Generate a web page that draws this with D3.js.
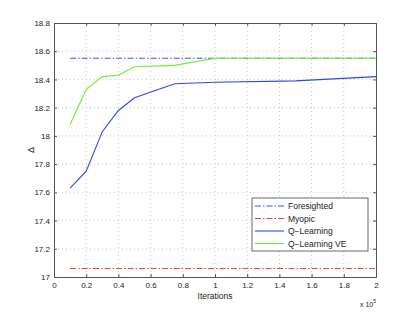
<!DOCTYPE html>
<html>
<head>
<meta charset="utf-8">
<script src="https://cdn.jsdelivr.net/npm/d3@7"></script>
<style>
  body { margin: 0; background: #fff; }
  text { font-family: "Liberation Sans", Arial, sans-serif; }
</style>
</head>
<body>
<div id="chart"></div>
<script>
// data (x in units of 10^5 iterations)
const xFlat = [0.1, 2];
const foresighted = [18.55, 18.55];
const myopic = [17.06, 17.06];
const qX = [0.1, 0.2, 0.3, 0.4, 0.5, 0.75, 1.0, 1.5, 2.0];
const qLearning = [17.63, 17.75, 18.03, 18.18, 18.27, 18.37, 18.38, 18.39, 18.42];
const qVE = [18.08, 18.33, 18.42, 18.43, 18.49, 18.5, 18.55, 18.55, 18.55];
const xTicks = [0, 0.2, 0.4, 0.6, 0.8, 1, 1.2, 1.4, 1.6, 1.8, 2];
const yTicks = [17, 17.2, 17.4, 17.6, 17.8, 18, 18.2, 18.4, 18.6, 18.8];

const width = 415, height = 312;
const margin = { top: 23, right: 39, bottom: 35, left: 54 };
const w = width - margin.left - margin.right;
const h = height - margin.top - margin.bottom;

const svg = d3.select("#chart").append("svg")
  .attr("width", width)
  .attr("height", height);

const x = d3.scaleLinear().domain([0, 2]).range([0, w]);
const y = d3.scaleLinear().domain([17, 18.8]).range([h, 0]);

const g = svg.append("g")
  .attr("transform", `translate(${margin.left},${margin.top})`);

// grid
g.append("g").selectAll("line").data(xTicks.slice(1, -1)).enter().append("line")
  .attr("x1", d => x(d)).attr("x2", d => x(d))
  .attr("y1", 0).attr("y2", h)
  .attr("stroke", "#c8c8c8").attr("stroke-dasharray", "1,3");
g.append("g").selectAll("line").data(yTicks.slice(1, -1)).enter().append("line")
  .attr("y1", d => y(d)).attr("y2", d => y(d))
  .attr("x1", 0).attr("x2", w)
  .attr("stroke", "#c8c8c8").attr("stroke-dasharray", "1,3");

// axes
g.append("g")
  .attr("transform", `translate(0,${h})`)
  .call(d3.axisBottom(x).tickValues(xTicks).tickFormat(d3.format("")).tickSizeInner(-3).tickSizeOuter(0).tickPadding(5));
g.append("g")
  .call(d3.axisLeft(y).tickValues(yTicks).tickFormat(d3.format("")).tickSizeInner(-3).tickSizeOuter(0).tickPadding(4));
g.append("g")
  .call(d3.axisTop(x).tickValues(xTicks).tickFormat("").tickSizeInner(-3).tickSizeOuter(0));
g.append("g")
  .attr("transform", `translate(${w},0)`)
  .call(d3.axisRight(y).tickValues(yTicks).tickFormat("").tickSizeInner(-3).tickSizeOuter(0));

g.selectAll(".domain").attr("stroke", "#555").attr("stroke-width", 1);
g.selectAll(".tick line").attr("stroke", "#555");
g.selectAll(".tick text").attr("font-size", 8).attr("fill", "#222");

// lines
const line = d3.line().x(d => x(d[0])).y(d => y(d[1]));
const series = [
  { xs: xFlat, ys: foresighted, color: "#3355ff", dash: "6,2,1.5,2" },
  { xs: xFlat, ys: myopic, color: "#ff3b3b", dash: "6,2,1.5,2" },
  { xs: qX, ys: qLearning, color: "#2f48e6", dash: null },
  { xs: qX, ys: qVE, color: "#6aee2c", dash: null }
];
series.forEach(s => {
  g.append("path")
    .datum(s.xs.map((v, i) => [v, s.ys[i]]))
    .attr("d", line)
    .attr("fill", "none")
    .attr("stroke", s.color)
    .attr("stroke-width", 1.1)
    .attr("stroke-dasharray", s.dash);
});

// legend
const names = ["Foresighted", "Myopic", "Q\u2212Learning", "Q\u2212Learning VE"];
const legend = svg.append("g").attr("transform", "translate(252,198)");
legend.append("rect")
  .attr("width", 116).attr("height", 53)
  .attr("fill", "#fff").attr("stroke", "#444").attr("stroke-width", 0.8);
names.forEach((n, i) => {
  const yy = 8 + i * 12.5;
  legend.append("line")
    .attr("x1", 3).attr("x2", 32).attr("y1", yy).attr("y2", yy)
    .attr("stroke", series[i].color)
    .attr("stroke-width", 1.1)
    .attr("stroke-dasharray", series[i].dash);
  legend.append("text")
    .attr("x", 36).attr("y", yy + 3)
    .attr("font-size", 8.5).attr("fill", "#222")
    .text(n);
});

// labels
svg.append("text")
  .attr("x", margin.left + x(1)).attr("y", 298.5)
  .attr("text-anchor", "middle").attr("font-size", 8.5).attr("fill", "#222")
  .text("Iterations");
svg.append("text")
  .attr("transform", "translate(34,150) rotate(-90)")
  .attr("text-anchor", "middle").attr("font-size", 9).attr("fill", "#222")
  .text("\u0394");
const mult = svg.append("text")
  .attr("x", 360).attr("y", 307)
  .attr("font-size", 7).attr("fill", "#222");
mult.append("tspan").text("x 10");
mult.append("tspan").attr("dy", -4).attr("font-size", 5).text("5");
</script>
</body>
</html>
